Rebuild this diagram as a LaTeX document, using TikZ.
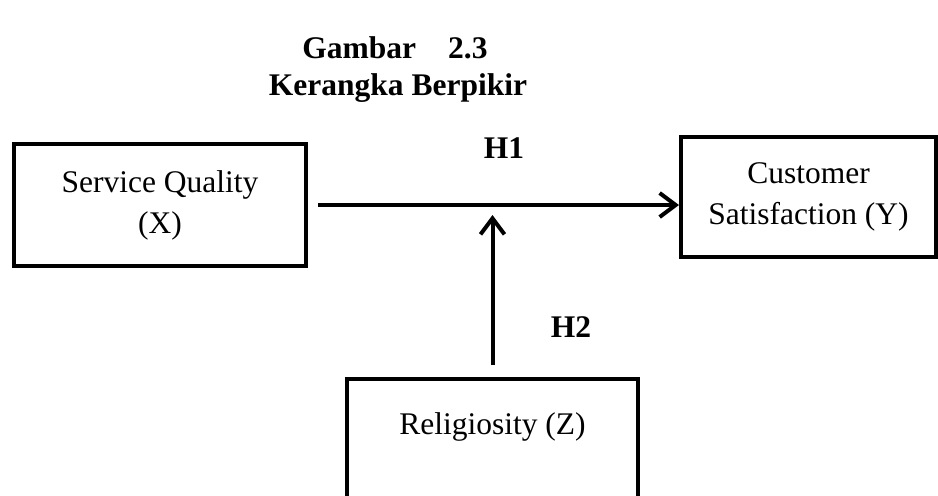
\documentclass[tikz,border=0pt]{standalone}
\usepackage{fontspec}
\setmainfont{Liberation Serif}
\usepackage{tikz}
\usetikzlibrary{positioning}
\usetikzlibrary{arrows.meta}
\tikzset{
    box/.style={draw, rectangle, line width=2pt, inner sep=0pt, align=center},
    title/.style={font=\fontsize{15.75}{20.5}\selectfont\bfseries},
    hyp/.style={font=\fontsize{15.75}{20.5}\selectfont\bfseries},
    arrow/.style={line width=2pt, -{Straight Barb[length=8pt, width=12pt, line width=2pt]}}
}

\begin{document}
\begin{tikzpicture}[x=0.5pt, y=-0.5pt, font=\fontsize{15.75}{20.5}\selectfont]
\useasboundingbox (0,0) rectangle (938,495);
\clip (0,0) rectangle (938,495);

\node [title]                                   (fig)    at (395,48)   {Gambar\hspace{16pt}2.3};
\node [title]                                   (name)   at (398,88)   {Kerangka Berpikir};
\node [box, minimum width=146pt, minimum height=61pt]   (sq)     at (160,205)  {Service Quality\\(X)};
\node [box, minimum width=127.5pt, minimum height=60pt] (cs)     at (808.5,197) {Customer\\Satisfaction (Y)};
\node [box, minimum width=145.5pt, text height=27.5pt, text depth=42pt, anchor=north]
                                                (rel)    at (492.5,377) {Religiosity (Z)};
\coordinate                                     (meet)   at (rel.north |- sq.east);
\node [hyp]                                     (h1)     at (504,148)  {H1};
\node [hyp]                                     (h2)     at (571,327)  {H2};

\draw [arrow, shorten <=5pt] (sq.east) to (sq.east -| cs.west);
\draw [arrow, shorten <=6pt, shorten >=5pt] (rel.north) to (meet);

\end{tikzpicture}
\end{document}
